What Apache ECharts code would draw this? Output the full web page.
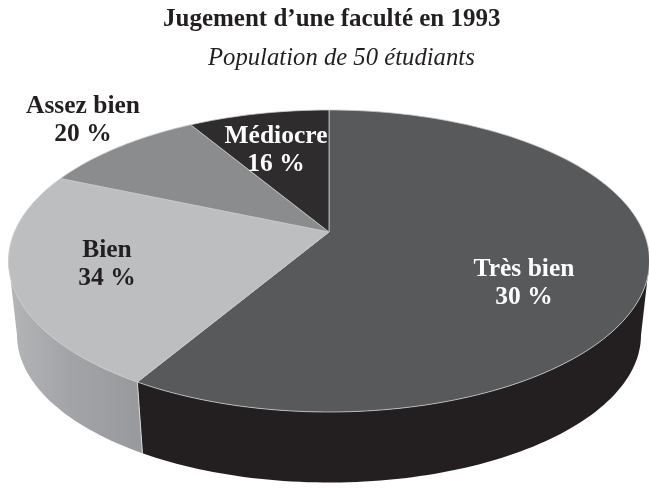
<!DOCTYPE html>
<html>
<head>
<meta charset="utf-8">
<style>
  html, body { margin: 0; padding: 0; background: #fff; }
  #chart { width: 649px; height: 490px; }
</style>
<script src="https://cdn.jsdelivr.net/npm/echarts@6/dist/echarts.min.js"></script>
</head>
<body>
<div id="chart"></div>
<script>
// slices, clockwise from the top of the pie
const categories = ['Très bien', 'Bien', 'Assez bien', 'Médiocre'];
// printed percentages (they do not match the drawn slices in the original)
const labelPercents = [30, 34, 20, 16];
// share of the rim each slice really takes in the picture
const sliceShares = [60.2, 24, 8.7, 7.1];

const topColors = ['#58595b', '#bcbec0', '#8a8c8e', '#2e2c2d'];
const labelColors = ['#ffffff', '#231f20', '#231f20', '#ffffff'];
const labelX = [524, 107, 83, 276];
const labelY = [283, 264, 120, 150];

// the tilted pie, in axis units (the axes map 1:1 on the window)
const apex = [329, 232];
const topRim = { cx: 329, cy: 261, rx: 320.5, ry: 151 };
const lowRim = { cx: 329, cy: 335, rx: 312, ry: 147.5 };

const total = sliceShares.reduce((a, b) => a + b, 0);

function sliceRange(i) {
  let start = 0;
  for (let k = 0; k < i; k++) start += sliceShares[k];
  return [start / total * 360, (start + sliceShares[i]) / total * 360];
}

function rimPoint(rim, deg) {
  const t = deg * Math.PI / 180;
  return [rim.cx + rim.rx * Math.sin(t), rim.cy - rim.ry * Math.cos(t)];
}

function rimPoints(rim, from, to) {
  const pts = [];
  const n = Math.max(2, Math.ceil(Math.abs(to - from) / 1.5));
  for (let k = 0; k <= n; k++) pts.push(rimPoint(rim, from + (to - from) * k / n));
  return pts;
}

function renderTop(params, api) {
  const r = sliceRange(params.dataIndex);
  const pts = [apex].concat(rimPoints(topRim, r[0], r[1])).map(p => api.coord(p));
  return {
    type: 'polygon',
    shape: { points: pts },
    style: { fill: topColors[params.dataIndex], stroke: '#c9cacc', lineWidth: 0.8, lineJoin: 'round' }
  };
}

// only the front of the wall shows, the top faces cover what is behind
function renderSide(params, api) {
  const r = sliceRange(params.dataIndex);
  const from = Math.max(r[0], 90);
  const to = Math.min(r[1], 270);
  if (from >= to) return null;
  const upper = rimPoints(topRim, from, to);
  const lower = rimPoints(lowRim, to, from);
  const pts = upper.concat(lower).map(p => api.coord(p));
  const fill = params.dataIndex === 0 ? '#231f20'
    : new echarts.graphic.LinearGradient(0, 0, 1, 0, [
        { offset: 0, color: '#b4b5b7' },
        { offset: 0.45, color: '#a3a4a7' },
        { offset: 1, color: '#98999c' }
      ]);
  const children = [{ type: 'polygon', shape: { points: pts }, style: { fill: fill } }];
  if (params.dataIndex === 1) {
    const a = api.coord(rimPoint(topRim, from));
    const b = api.coord(rimPoint(lowRim, from));
    children.push({
      type: 'line',
      shape: { x1: a[0], y1: a[1], x2: b[0], y2: b[1] },
      style: { stroke: '#d4d5d6', lineWidth: 1 }
    });
  }
  return { type: 'group', children: children };
}

const chart = echarts.init(document.getElementById('chart'), null, { renderer: 'canvas' });

chart.setOption({
  backgroundColor: '#ffffff',
  animation: false,
  title: [
    {
      text: 'Jugement d’une faculté en 1993',
      left: 158, top: 2,
      textStyle: { fontFamily: 'Liberation Serif', fontSize: 25, fontWeight: 'bold', color: '#231f20' }
    },
    {
      text: 'Population de 50 étudiants',
      left: 203, top: 41,
      textStyle: { fontFamily: 'Liberation Serif', fontSize: 24.7, fontStyle: 'italic', fontWeight: 'normal', color: '#231f20' }
    }
  ],
  grid: { left: 0, right: 0, top: 0, bottom: 0 },
  xAxis: { type: 'value', min: 0, max: 649, show: false },
  yAxis: { type: 'value', min: 0, max: 490, inverse: true, show: false },
  series: [
    {
      type: 'custom',
      coordinateSystem: 'cartesian2d',
      renderItem: renderSide,
      data: sliceShares,
      encode: { x: [], y: [] },
      clip: false,
      silent: true
    },
    {
      type: 'custom',
      coordinateSystem: 'cartesian2d',
      renderItem: renderTop,
      data: sliceShares,
      encode: { x: [], y: [] },
      clip: false,
      silent: true
    },
    {
      type: 'scatter',
      symbolSize: 0,
      silent: true,
      itemStyle: { opacity: 1 },
      data: categories.map((c, i) => ({
        value: [labelX[i], labelY[i]],
        label: {
          show: true,
          position: 'inside',
          formatter: c + '\n' + labelPercents[i] + ' %',
          color: labelColors[i],
          fontFamily: 'Liberation Serif',
          fontSize: 25.5,
          fontWeight: 'bold',
          lineHeight: 28,
          align: 'center',
          verticalAlign: 'middle'
        }
      }))
    }
  ]
});
</script>
</body>
</html>
